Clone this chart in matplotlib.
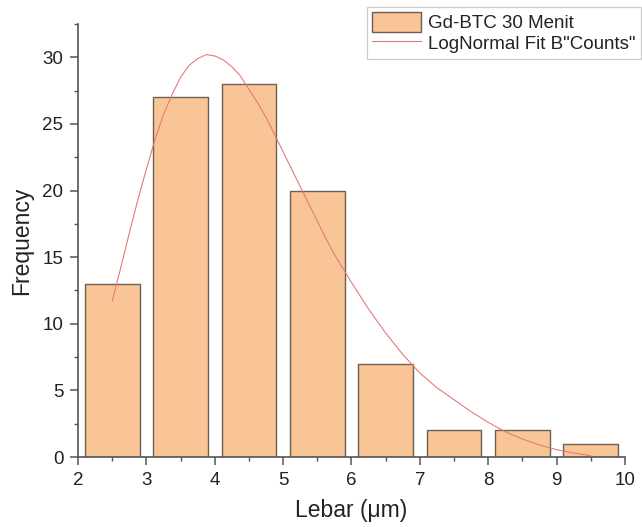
import matplotlib
matplotlib.use("Agg")
import matplotlib.pyplot as plt
from matplotlib.ticker import MultipleLocator

plt.rcParams['font.family'] = ['Liberation Sans', 'DejaVu Sans']

# Histogram bins (left edges) and counts
bin_left = [2, 3, 4, 5, 6, 7, 8, 9]
counts = [13, 27, 28, 20, 7, 2, 2, 1]

# LogNormal fit curve
fit_x = [2.5, 2.625, 2.75, 2.875, 3.0, 3.125, 3.25, 3.375, 3.5, 3.625, 3.75,
         3.875, 4.0, 4.125, 4.25, 4.375, 4.5, 4.625, 4.75, 4.875, 5.0, 5.125,
         5.25, 5.375, 5.5, 5.625, 5.75, 6.0, 6.25, 6.5, 6.75, 7.0, 7.25, 7.5,
         7.75, 8.0, 8.25, 8.5, 8.75, 9.0, 9.25, 9.5]
fit_y = [11.7, 14.2, 16.8, 19.3, 21.6, 23.8, 25.7, 27.2, 28.5, 29.4, 29.9,
         30.2, 30.1, 29.8, 29.3, 28.6, 27.6, 26.6, 25.5, 24.2, 22.9, 21.6,
         20.3, 19.0, 17.7, 16.4, 15.2, 13.1, 11.1, 9.3, 7.7, 6.3, 5.2, 4.3,
         3.4, 2.6, 1.9, 1.35, 0.9, 0.55, 0.3, 0.1]

x_ticks = [2, 3, 4, 5, 6, 7, 8, 9, 10]
y_ticks = [0, 5, 10, 15, 20, 25, 30]

fig = plt.figure(figsize=(6.42, 5.27), dpi=100)
ax = fig.add_axes([0.1215, 0.1328, 0.852, 0.8217])

centers = [b + 0.5 for b in bin_left]
ax.bar(centers, counts, width=0.8, color='#FAC596', edgecolor='#6e5e50',
       linewidth=1.0, label='Gd-BTC 30 Menit', zorder=2)
ax.plot(fit_x, fit_y, color='#E37B7B', linewidth=0.8,
        label='LogNormal Fit B"Counts"', zorder=3)

ax.set_xlim(2, 10)
ax.set_ylim(0, 32.5)
ax.set_xticks(x_ticks)
ax.set_yticks(y_ticks)
ax.xaxis.set_minor_locator(MultipleLocator(0.5))
ax.yaxis.set_minor_locator(MultipleLocator(2.5))

for s in ['top', 'right']:
    ax.spines[s].set_visible(False)
for s in ['left', 'bottom']:
    ax.spines[s].set_color('#555555')
    ax.spines[s].set_linewidth(1.2)

ax.tick_params(which='major', direction='out', length=6, width=1.1,
               color='#555555', labelsize=13.5, labelcolor='#222222')
ax.tick_params(axis='y', which='major', pad=4.5)
ax.tick_params(axis='x', which='major', pad=5)
ax.tick_params(which='minor', direction='out', length=3, width=1.0,
               color='#555555')

ax.set_xlabel('Lebar (\u03bcm)', fontsize=16.5, color='#222222', labelpad=7)
ax.set_ylabel('Frequency', fontsize=16.5, color='#222222', labelpad=7)

handles, labels = ax.get_legend_handles_labels()
order = [labels.index('Gd-BTC 30 Menit'), labels.index('LogNormal Fit B"Counts"')]
leg = ax.legend([handles[i] for i in order], [labels[i] for i in order],
                loc='upper right', bbox_to_anchor=(0.998, 0.987),
                bbox_transform=fig.transFigure, fontsize=13.5, frameon=True,
                fancybox=False, edgecolor='#c0c0c0', handlelength=2.6,
                handleheight=1.2, borderpad=0.3, labelspacing=0.05,
                handletextpad=0.35, borderaxespad=0)
leg.get_frame().set_linewidth(0.9)
for t in leg.get_texts():
    t.set_color('#222222')

fig.savefig('out.png', dpi=100)
